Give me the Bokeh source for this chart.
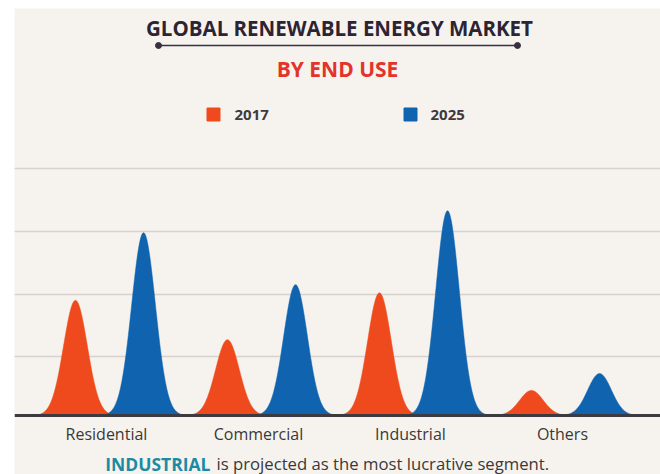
import numpy as np
from bokeh.plotting import figure
from bokeh.models import ColumnDataSource, Span, FixedTicker, Range1d, Grid
from bokeh.core.properties import value
from bokeh.embed import file_html
from bokeh.resources import INLINE

# ---------------- data ----------------
categories = ["Residential", "Commercial", "Industrial", "Others"]
years = ["2017", "2025"]
values_2017 = [1.84, 1.21, 1.96, 0.40]
values_2025 = [2.92, 2.09, 3.27, 0.67]
grid_levels = [0.94, 1.94, 2.94, 3.94]

title_text = "GLOBAL RENEWABLE ENERGY MARKET"
subtitle_text = "BY END USE"
footer_key = "INDUSTRIAL"
footer_rest = "is projected as the most lucrative segment."

# ---------------- style / layout ----------------
CREAM = "#f6f3ee"
ORANGE = "#ef4a1d"
BLUE = "#0f63af"
DARK = "#2d2433"
RED = "#e4332a"
TEAL = "#1b8ba5"
TEXT = "#3b3838"

W, H = 660, 474
LEFT, TOP = 14, 8
BASE_PX = 415
UNIT_Y = 62.6
UNIT_X = 152
GROUP0_PX = 109
PAIR_OFF = 0.224
SIGMA = 0.078


def sx(px):
    return (px - GROUP0_PX) / UNIT_X


def sy(py):
    return (BASE_PX - py) / UNIT_Y


p = figure(width=W, height=H,
           x_range=Range1d(sx(LEFT), sx(W)), y_range=Range1d(sy(H), sy(TOP)),
           output_backend="svg", toolbar_location=None,
           x_axis_location=None, y_axis_location=None,
           min_border_left=LEFT, min_border_top=TOP,
           min_border_right=0, min_border_bottom=0,
           border_fill_color="white", background_fill_color=CREAM,
           outline_line_color=None)

# remove default grids, add our own horizontal grid
p.center = [r for r in p.center if not isinstance(r, Grid)]
p.add_layout(Grid(dimension=1, ticker=FixedTicker(ticks=grid_levels),
                  grid_line_color="#d8d1ce", grid_line_width=1.5))

# ---------------- peaks ----------------
dx = np.linspace(-0.32, 0.32, 161)
xs, ys, cols = [], [], []
for i, cat in enumerate(categories):
    for v, off, c in ((values_2017[i], -PAIR_OFF, ORANGE), (values_2025[i], PAIR_OFF, BLUE)):
        xs.append(list(i + off + dx))
        ys.append(list(v * np.exp(-0.5 * (dx / SIGMA) ** 2)))
        cols.append(c)
p.patches(xs="xs", ys="ys", fill_color="c", line_color="c", line_width=0.5,
          source=ColumnDataSource(dict(xs=xs, ys=ys, c=cols)))

p.add_layout(Span(location=0, dimension="width", line_color="#3d3940", line_width=3))

# ---------------- category labels ----------------
p.text(x=[i - 0.02 for i in range(len(categories))], y=[sy(433)] * len(categories), text=categories,
       text_font=value("Open Sans"), text_font_size="16px", text_color=TEXT,
       text_align="center", text_baseline="middle")

# ---------------- title ----------------
p.text(x=[sx(339)], y=[sy(27)], text=[title_text], text_font=value("Open Sans"),
       text_font_size="20.5px", text_font_style="bold", text_color=DARK,
       text_align="center", text_baseline="middle")
p.line(x=[sx(158), sx(517)], y=[sy(45), sy(45)], line_color="#3a2f40", line_width=1.5)
p.scatter(x=[sx(158), sx(517)], y=[sy(45), sy(45)], size=6, color="#3a2f40")
p.text(x=[sx(337)], y=[sy(68)], text=[subtitle_text], text_font=value("Open Sans"),
       text_font_size="21px", text_font_style="bold", text_color=RED,
       text_align="center", text_baseline="middle")

# ---------------- legend ----------------
p.scatter(x=[sx(213), sx(410)], y=[sy(114)] * 2, marker="square", size=13,
          color=[ORANGE, BLUE])
p.text(x=[sx(234), sx(430)], y=[sy(114)] * 2, text=years, text_font=value("Open Sans"),
       text_font_size="15px", text_font_style="bold", text_color="#3e3a40",
       text_align="left", text_baseline="middle")

# ---------------- footer ----------------
p.text(x=[sx(210)], y=[sy(463)], text=[footer_key], text_font=value("Open Sans"),
       text_font_size="17.5px", text_font_style="bold", text_color=TEAL,
       text_align="right", text_baseline="middle")
p.text(x=[sx(216)], y=[sy(463)], text=[footer_rest], text_font=value("Open Sans"),
       text_font_size="16.7px", text_color=TEXT,
       text_align="left", text_baseline="middle")

open("out.html", "w").write(file_html(p, INLINE))
